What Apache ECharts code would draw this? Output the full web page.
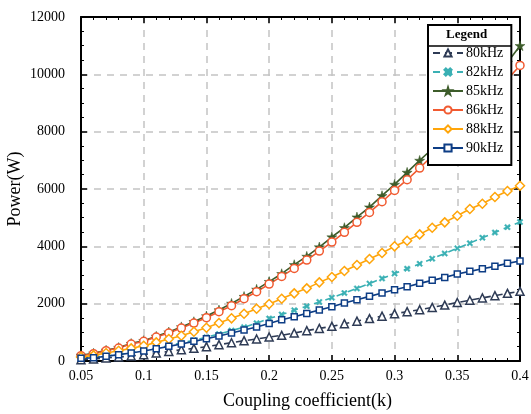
<!DOCTYPE html>
<html>
<head>
<meta charset="utf-8">
<script src="https://cdn.jsdelivr.net/npm/echarts@6/dist/echarts.min.js"></script>
<style>
html, body { margin: 0; padding: 0; background: #fff; }
#chart { width: 531px; height: 414px; }
</style>
</head>
<body>
<div id="chart"></div>
<script>
var kValues = [0.05,0.06,0.07,0.08,0.09,0.10,0.11,0.12,0.13,0.14,0.15,0.16,0.17,0.18,0.19,0.20,
    0.21,0.22,0.23,0.24,0.25,0.26,0.27,0.28,0.29,0.30,0.31,0.32,0.33,0.34,0.35,0.36,0.37,0.38,0.39,0.40];
var p80 = [45,70,105,140,174,220,279,335,394,441,499,569,638,708,767,837,
    894,976,1057,1138,1208,1301,1390,1480,1565,1650,1720,1790,1870,1950,2040,2120,2200,2280,2360,2430];
var p82 = [100,130,175,235,300,370,455,540,630,725,830,940,1060,1180,1320,1480,
    1620,1770,1910,2060,2210,2370,2530,2700,2880,3050,3220,3390,3570,3750,3930,4110,4300,4480,4670,4850];
var p85 = [200,270,375,470,610,710,860,1010,1190,1370,1570,1780,2010,2250,2500,2770,
    3045,3359,3650,3976,4325,4650,5022,5371,5766,6161,6580,6998,7395,7860,8340,8830,9330,9850,10410,11000];
var p86 = [185,255,359,453,592,685,837,977,1151,1325,1511,1720,1929,2173,2417,2684,
    2952,3231,3522,3836,4150,4487,4836,5184,5556,5951,6324,6731,7150,7580,8020,8470,8900,9360,9830,10310];
var p88 = [139,197,279,359,441,534,650,767,883,1022,1162,1325,1488,1650,1825,1990,
    2170,2360,2534,2743,2930,3139,3348,3558,3767,4000,4196,4417,4650,4836,5068,5301,5487,5720,5929,6115];
var p90 = [93,116,162,221,279,349,430,511,592,685,778,871,976,1081,1186,1310,
    1440,1545,1661,1778,1894,2022,2138,2255,2372,2487,2592,2708,2813,2917,3034,3127,3220,3301,3406,3488];
var names = ['80kHz','82kHz','85kHz','86kHz','88kHz','90kHz'];

var font = 'Liberation Serif';
var starPath = 'path://M50,0L61,35L98,35L68,57L79,91L50,70L21,91L32,57L2,35L39,35Z';
var crossPath = 'path://M0,2L2,0L5,3L8,0L10,2L7,5L10,8L8,10L5,7L2,10L0,8L3,5Z';

function pairs(arr) {
    var out = [];
    for (var i = 0; i < kValues.length; i++) {
        out.push([kValues[i], arr[i]]);
    }
    return out;
}

function makeSeries(name, arr, color, symbol, size, hollow, dashed) {
    return {
        name: name,
        type: 'line',
        data: pairs(arr),
        symbol: symbol,
        symbolSize: size,
        showAllSymbol: true,
        lineStyle: { color: color, width: 1.6, type: dashed ? [7, 5] : 'solid' },
        itemStyle: hollow
            ? { color: '#fff', borderColor: color, borderWidth: 1.5 }
            : { color: color, borderColor: color, borderWidth: 0.5 },
        emphasis: { disabled: true }
    };
}

function axisCommon() {
    return {
        axisLine: { show: true, onZero: false, lineStyle: { color: '#000', width: 2 } },
        axisTick: { show: true, inside: true, length: 6, lineStyle: { color: '#000', width: 1.5 } },
        minorTick: { show: true, length: 3, lineStyle: { color: '#000', width: 1 } }
    };
}

var chart = echarts.init(document.getElementById('chart'));

var xBottom = axisCommon();
xBottom.type = 'value';
xBottom.min = 0.05;
xBottom.max = 0.4;
xBottom.interval = 0.05;
xBottom.minorTick.splitNumber = 5;
xBottom.axisLabel = { color: '#000', fontFamily: font, fontSize: 14, margin: 8 };
xBottom.splitLine = { show: true, lineStyle: { color: '#c4c4c4', width: 1.5, type: [7, 6] } };
xBottom.name = 'Coupling coefficient(k)';
xBottom.nameLocation = 'middle';
xBottom.nameGap = 31;
xBottom.nameMoveOverlap = false;
xBottom.nameTextStyle = { color: '#000', fontFamily: font, fontSize: 18, padding: [0, 0, 0, 14] };

var xTop = axisCommon();
xTop.type = 'value';
xTop.position = 'top';
xTop.min = 0.05;
xTop.max = 0.4;
xTop.interval = 0.05;
xTop.minorTick.splitNumber = 5;
xTop.axisLabel = { show: false };
xTop.splitLine = { show: false };

var yLeft = axisCommon();
yLeft.type = 'value';
yLeft.min = 0;
yLeft.max = 12000;
yLeft.interval = 2000;
yLeft.minorTick.splitNumber = 4;
yLeft.axisLabel = {
    color: '#000', fontFamily: font, fontSize: 14, margin: 16,
    formatter: function (v) { return String(v); }
};
yLeft.splitLine = { show: true, lineStyle: { color: '#c4c4c4', width: 1.5, type: [7, 6] } };
yLeft.name = 'Power(W)';
yLeft.nameLocation = 'middle';
yLeft.nameGap = 57;
yLeft.nameMoveOverlap = false;
yLeft.nameTextStyle = { color: '#000', fontFamily: font, fontSize: 18 };

var yRight = axisCommon();
yRight.type = 'value';
yRight.position = 'right';
yRight.min = 0;
yRight.max = 12000;
yRight.interval = 2000;
yRight.minorTick.splitNumber = 4;
yRight.axisLabel = { show: false };
yRight.splitLine = { show: false };

chart.setOption({
    animation: false,
    backgroundColor: '#fff',
    grid: { left: 81, right: 11, top: 17, bottom: 53, outerBoundsMode: 'none' },
    xAxis: [xBottom, xTop],
    yAxis: [yLeft, yRight],
    legend: {
        orient: 'vertical',
        left: 428,
        top: 25,
        data: names,
        backgroundColor: '#fff',
        borderColor: '#000',
        borderWidth: 2,
        borderRadius: 0,
        padding: [21, 8, 10, 4],
        itemWidth: 30,
        itemHeight: 9,
        itemGap: 5,
        textStyle: { color: '#000', fontFamily: font, fontSize: 14, padding: [0, 0, 0, -2] }
    },
    graphic: [
        {
            type: 'text', left: 446, top: 28, z: 100,
            style: { text: 'Legend', fill: '#000', font: 'bold 13px "Liberation Serif"' }
        },
        {
            type: 'line', z: 100,
            shape: { x1: 428, y1: 46, x2: 512, y2: 46 },
            style: { stroke: '#000', lineWidth: 1.5 }
        }
    ],
    series: [
        makeSeries(names[0], p80, '#2e3b55', 'triangle', 8, true, true),
        makeSeries(names[1], p82, '#3ab0b4', crossPath, 6, false, true),
        makeSeries(names[2], p85, '#3d5c2a', starPath, 10, false, false),
        makeSeries(names[3], p86, '#f15a30', 'circle', 8, true, false),
        makeSeries(names[4], p88, '#ffa50a', 'diamond', 9, true, false),
        makeSeries(names[5], p90, '#0d3d85', 'rect', 6, true, false)
    ]
});
</script>
</body>
</html>
